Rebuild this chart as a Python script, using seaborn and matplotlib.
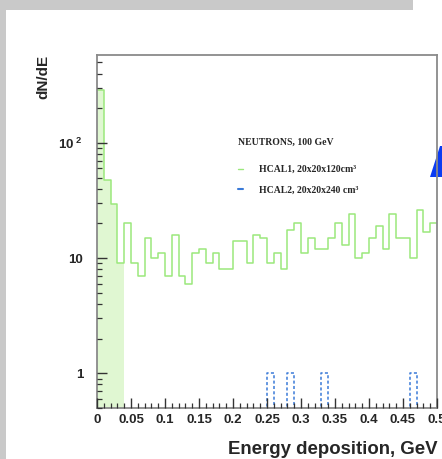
import numpy as np
import pandas as pd
import matplotlib
matplotlib.use("Agg")
import matplotlib.pyplot as plt
import seaborn as sns
from matplotlib.lines import Line2D
from matplotlib.patches import Rectangle, Polygon
from matplotlib.ticker import FixedLocator, LogLocator, NullFormatter, MultipleLocator

# histogram binning: 50 bins of 0.01 GeV from 0 to 0.5
n_bins = 50
e_range = (0.0, 0.5)
bin_centers = np.arange(n_bins) * 0.01 + 0.005

# HCAL1 (20x20x120) counts per bin
hcal1_counts = [290, 48, 29.5, 9, 20, 9, 7, 15, 10, 11,
                7, 16, 7, 6, 11, 12, 9, 11, 8, 8,
                14, 14, 9, 16, 15, 9, 11, 8, 17.5, 20,
                11, 15, 12, 12, 15, 20, 13, 24, 10, 11,
                15, 19, 12, 24, 15, 15, 10, 26, 17, 20]
# HCAL2 (20x20x240) counts per bin
hcal2_counts = [0] * 50
for b in [25, 28, 33, 46]:
    hcal2_counts[b] = 1

n_filled = 4  # shaded low-energy bins of HCAL1

xtick_vals = [0, 0.05, 0.1, 0.15, 0.2, 0.25, 0.3, 0.35, 0.4, 0.45, 0.5]
xtick_labels = ["0", "0.05", "0.1", "0.15", "0.2", "0.25", "0.3", "0.35", "0.4", "0.45", "0.5"]
ytick_vals = [1, 10, 100]
ytick_labels = ["1", "10", r"$\mathbf{10}^{\ \mathbf{2}}$"]

legend_title = "NEUTRONS, 100 GeV"
legend_labels = ["HCAL1, 20x20x120cm\u00b3", "HCAL2, 20x20x240 cm\u00b3"]

df1 = pd.DataFrame({"E": bin_centers, "n": hcal1_counts})
df2 = pd.DataFrame({"E": bin_centers, "n": hcal2_counts})

green = "#9be87c"
green_fill = "#e0f7d2"
blue = "#3a7ad8"

sns.set_style("white")
plt.rcParams["font.family"] = ["Liberation Sans", "DejaVu Sans"]
plt.rcParams["mathtext.fontset"] = "custom"
plt.rcParams["mathtext.bf"] = "Liberation Sans:bold"
plt.rcParams["mathtext.rm"] = "Liberation Sans"

W, H = 442, 459
fig = plt.figure(figsize=(W / 100, H / 100), dpi=100, facecolor="white")
ax = fig.add_axes([97 / W, 1 - 408 / H, (437 - 97) / W, (408 - 55) / H])
ax.set_facecolor("none")

# slide background bits
fig.patches.append(Rectangle((0, 0), 6 / W, 1, transform=fig.transFigure,
                             facecolor="#c9c9c9", edgecolor="none", zorder=-2))
fig.patches.append(Rectangle((0, 1 - 10 / H), 413 / W, 10 / H, transform=fig.transFigure,
                             facecolor="#c9c9c9", edgecolor="none", zorder=-2))
tri = [(430 / W, 1 - 177 / H), (1.01, 1 - 177 / H), (1.01, 1 - 146 / H), (440 / W, 1 - 146 / H)]
fig.patches.append(Polygon(tri, closed=True, transform=fig.transFigure,
                           facecolor="#0b3cf2", edgecolor="none", zorder=-1))

# shaded first bins
sns.histplot(data=df1.iloc[:n_filled], x="E", weights="n", bins=n_filled,
             binrange=(0, n_filled * 0.01), element="step", fill=True,
             color=green_fill, alpha=1, linewidth=0, ax=ax)
# HCAL1 outline
sns.histplot(data=df1, x="E", weights="n", bins=n_bins, binrange=e_range,
             element="step", fill=False, color=green, linewidth=1.1, ax=ax)
# HCAL2 dashed
sns.histplot(data=df2, x="E", weights="n", bins=n_bins, binrange=e_range,
             element="step", fill=False, color=blue, linewidth=1.1,
             linestyle=(0, (2, 1.5)), ax=ax)

ax.set_yscale("log", nonpositive="clip")
ax.set_xlim(0, 0.5)
ax.set_ylim(0.5, 580)
ax.set_axisbelow(False)

ax.xaxis.set_major_locator(FixedLocator(xtick_vals))
ax.set_xticklabels(xtick_labels)
ax.xaxis.set_minor_locator(MultipleLocator(0.01))
ax.yaxis.set_major_locator(FixedLocator(ytick_vals))
ax.set_yticklabels(ytick_labels)
ax.yaxis.set_minor_locator(LogLocator(base=10, subs=np.arange(2, 10)))
ax.yaxis.set_minor_formatter(NullFormatter())

ax.tick_params(axis="both", which="both", direction="in", color="#333333",
               bottom=True, left=True, top=False, right=False)
ax.tick_params(axis="both", which="major", length=7, width=1)
ax.tick_params(axis="both", which="minor", length=3.5, width=0.9)
ax.tick_params(axis="x", which="major", pad=4, labelsize=9.5)
ax.tick_params(axis="y", which="major", pad=10, labelsize=9.5)
for lab in ax.get_xticklabels() + ax.get_yticklabels():
    lab.set_fontweight("bold")

for s in ax.spines.values():
    s.set_color("#8a8a8a")
    s.set_linewidth(1.3)
    s.set_visible(True)

ax.set_ylabel("dN/dE", fontsize=11, fontweight="bold")
ax.yaxis.set_label_coords(-0.138, 0.938)
ax.set_xlabel("Energy deposition, GeV", fontsize=13.4, fontweight="bold", loc="right")
ax.xaxis.set_label_coords(1.0, -0.093)

handles = [Line2D([], [], color=green, lw=1), Line2D([], [], color=blue, lw=1.5)]
leg = ax.legend(handles, legend_labels, title=legend_title, loc="upper left",
                bbox_to_anchor=((233 - 97) / 340, (408 - 133) / 353), frameon=False,
                borderpad=0, handlelength=0.5, handletextpad=1.7, labelspacing=1.2,
                prop={"family": "Liberation Serif", "weight": "bold", "size": 7})
leg.get_title().set_fontproperties({"family": "Liberation Serif", "weight": "bold", "size": 7})
leg._legend_box.align = "left"
leg._legend_box.sep = 13

fig.savefig("out.png", dpi=100, facecolor="white")
